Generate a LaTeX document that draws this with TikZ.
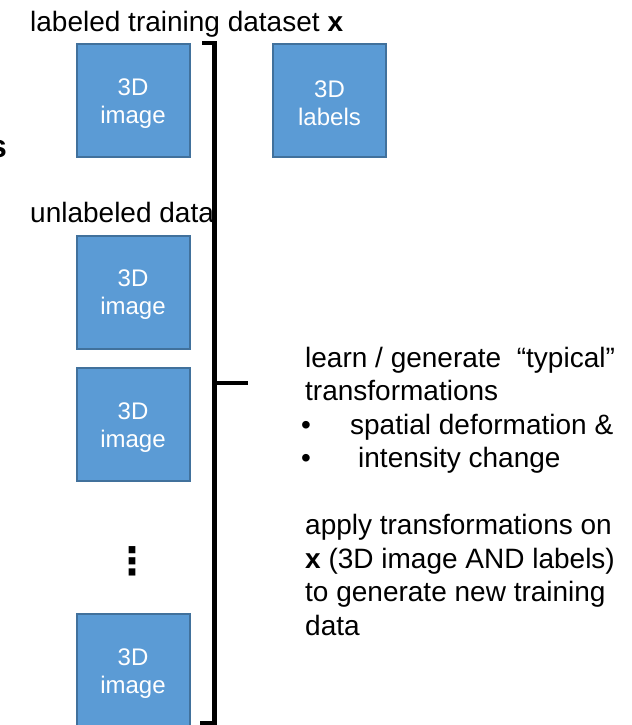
\documentclass[tikz,border=0pt]{standalone}
\usepackage{fontspec}
\setmainfont{Liberation Sans}
\newfontfamily\dejavu{DejaVu Sans}
\definecolor{boxfill}{HTML}{5B9BD5}
\definecolor{boxline}{HTML}{41719C}
\begin{document}
\begin{tikzpicture}[x=1bp,y=-1bp,
  imgbox/.style={rectangle, fill=boxfill, draw=boxline, line width=2bp,
    minimum width=113bp, minimum height=113bp, inner sep=0pt},
  boxtext/.style={inner sep=0pt, yshift=-3bp, text=white, align=center,
    font=\fontsize{24bp}{28bp}\selectfont},
  txt/.style={anchor=base west, inner sep=0pt, font=\fontsize{28bp}{33.5bp}\selectfont},
  bracket/.style={line width=4.5bp, draw=black}]
\useasboundingbox (0,0) rectangle (632,725);
% titles
\node[txt] (title) at (30,31.5) {labeled training dataset \textbf{x}};
\node[txt] (unl) at (30,222) {unlabeled data};
\node[anchor=base east, inner sep=0pt, font=\fontsize{32bp}{36bp}\selectfont\bfseries] (cut) at (7,157) {s};
% boxes
\node[imgbox, label={[boxtext]center:3D\\image}] (img1) at (133,100.5) {};
\node[imgbox, label={[boxtext]center:3D\\labels}] (lab1) at (329.5,100.5) {};
\node[imgbox, label={[boxtext]center:3D\\image}] (img2) at (133,292) {};
\node[imgbox, label={[boxtext]center:3D\\image}] (img3) at (133,424.5) {};
\node[imgbox, label={[boxtext]center:3D\\image}] (img4) at (133,670.5) {};
% dots
\node[inner sep=0pt, font=\fontsize{38bp}{38bp}\selectfont\dejavu\bfseries] (dots) at (132,561) {⋮};
% bracket
\coordinate (bt0) at (202,43);
\coordinate (bt1) at (214.5,43);
\coordinate (bb1) at (214.5,723);
\coordinate (bb0) at (200,723);
\coordinate (bm0) at (214.5,383);
\coordinate (bm1) at (248,383);
\draw[bracket] (bt0) -- (bt1) -- (bb1) -- (bb0);
\draw[bracket] (bm0) -- (bm1);
% right text
\node[txt] (r1) at (305,367) {learn / generate \ “typical”};
\node[txt] (r2) at (305,400.5) {transformations};
\node[txt] (r3) at (305,434) {\hspace*{-4bp}\makebox[49bp][l]{•}spatial deformation \&};
\node[txt] (r4) at (305,467.5) {\hspace*{-4bp}\makebox[57bp][l]{•}intensity change};
\node[txt] (r5) at (305,534.5) {apply transformations on};
\node[txt] (r6) at (305,568) {\textbf{x} (3D image AND labels)};
\node[txt] (r7) at (305,601.5) {to generate new training};
\node[txt] (r8) at (305,635) {data};
\end{tikzpicture}
\end{document}
